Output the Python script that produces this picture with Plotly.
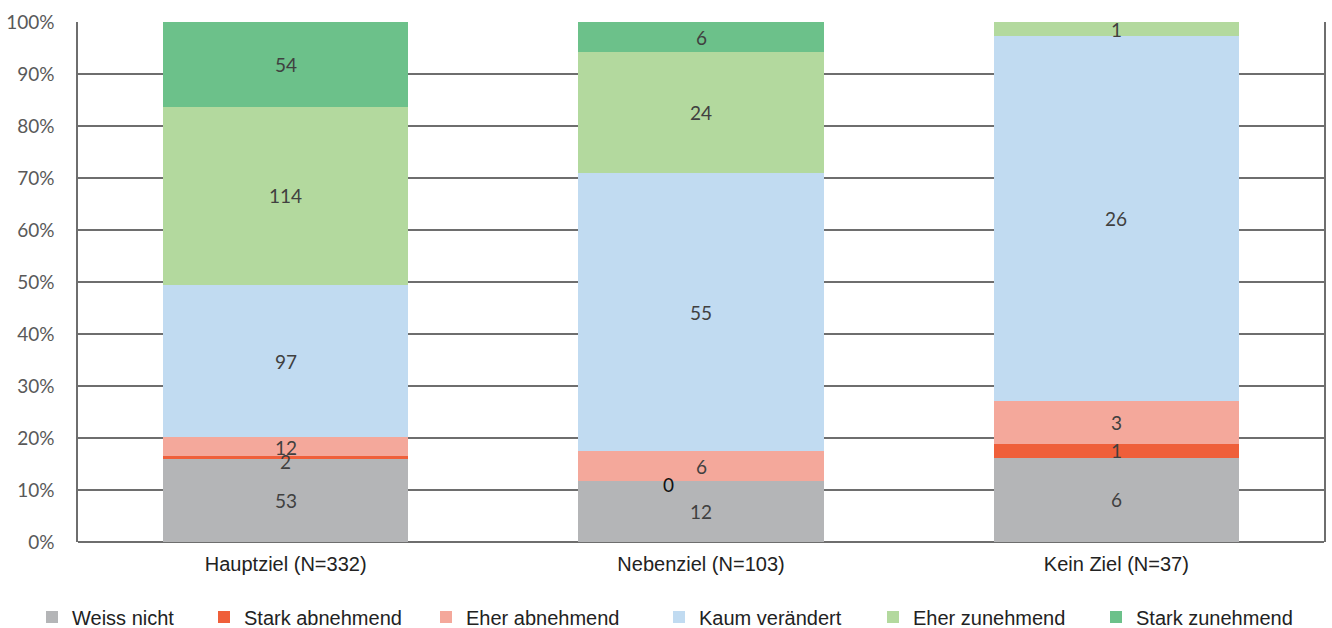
import plotly.graph_objects as go

categories = ["Hauptziel (N=332)", "Nebenziel (N=103)", "Kein Ziel (N=37)"]
series_names = ["Weiss nicht", "Stark abnehmend", "Eher abnehmend",
                "Kaum verändert", "Eher zunehmend", "Stark zunehmend"]
weiss_nicht = [53, 12, 6]
stark_abnehmend = [2, 0, 1]
eher_abnehmend = [12, 6, 3]
kaum_veraendert = [97, 55, 26]
eher_zunehmend = [114, 24, 1]
stark_zunehmend = [54, 6, 0]
y_ticks = [0, 10, 20, 30, 40, 50, 60, 70, 80, 90, 100]
y_tick_labels = [f"{v}%" for v in y_ticks]

series_values = [weiss_nicht, stark_abnehmend, eher_abnehmend,
                 kaum_veraendert, eher_zunehmend, stark_zunehmend]
colors = ["#b4b5b7", "#ef5f3a", "#f4a89b", "#c1dbf1", "#b3d99e", "#6cc18a"]

# legend text start positions (px) in the 1332 px wide page
legend_text_x = [72, 244, 466, 699, 913, 1136]

W, H = 1332, 628
ML, MR, MT, MB = 78, 8, 22, 86
pw = W - ML - MR
ph = H - MT - MB

fig = go.Figure()
for i, (name, vals, col) in enumerate(zip(series_names, series_values, colors)):
    lg = "legend" if i == 0 else f"legend{i+1}"
    fig.add_trace(go.Bar(
        x=categories, y=vals, name=name, marker=dict(color=col, line=dict(width=0)),
        legend=lg, hoverinfo="skip",
    ))

# data labels (counts) placed at segment centers in percent space
totals = [sum(s[j] for s in series_values) for j in range(len(categories))]
label_shift = {(1, 0): (0, -4), (2, 0): (0, -1), (1, 1): (-33, -3)}  # (series, category): (dx px, dy px)
annotations = []
for j, cat in enumerate(categories):
    cum = 0.0
    for i, vals in enumerate(series_values):
        v = vals[j]
        pct = 100.0 * v / totals[j]
        mid = cum + pct / 2
        cum += pct
        show = v > 0 or (i, j) in label_shift
        if not show:
            continue
        dx, dy = label_shift.get((i, j), (0, 0))
        special = (i, j) == (1, 1)
        annotations.append(dict(
            x=cat, y=mid, xref="x", yref="y", text=str(v), showarrow=False,
            xshift=dx, yshift=dy,
            font=dict(family="Lato", size=19, color="#111111" if special else "#404040"),
        ))

layout_legends = {}
for i, tx in enumerate(legend_text_x):
    key = "legend" if i == 0 else f"legend{i+1}"
    layout_legends[key] = dict(
        x=(tx - 40 - ML) / pw, y=-(617 - (H - MB)) / ph,
        xanchor="left", yanchor="middle", orientation="h",
        bgcolor="rgba(0,0,0,0)",
        font=dict(family="Liberation Sans, Arial", size=20, color="#222222"),
    )

fig.update_layout(
    width=W, height=H,
    margin=dict(l=ML, r=MR, t=MT, b=MB, autoexpand=False),
    barmode="stack", barnorm="percent", bargap=0.41,
    plot_bgcolor="white", paper_bgcolor="white",
    showlegend=True,
    annotations=annotations,
    xaxis=dict(
        showgrid=False, showline=False, ticks="",
        tickfont=dict(family="Liberation Sans, Arial", size=20, color="#222222"),
        ticklabelstandoff=8,
    ),
    yaxis=dict(
        range=[0, 100], tickvals=y_ticks, ticktext=y_tick_labels,
        showgrid=True, gridcolor="#6e6e6e", gridwidth=1.5,
        showline=True, linecolor="#6e6e6e", linewidth=1.5, mirror=True,
        zeroline=True, zerolinecolor="#6e6e6e", zerolinewidth=1.5,
        tickfont=dict(family="Lato", size=19, color="#595959"),
        ticklabelstandoff=18, ticks="",
    ),
    **layout_legends,
)

fig.write_html("out.html")
